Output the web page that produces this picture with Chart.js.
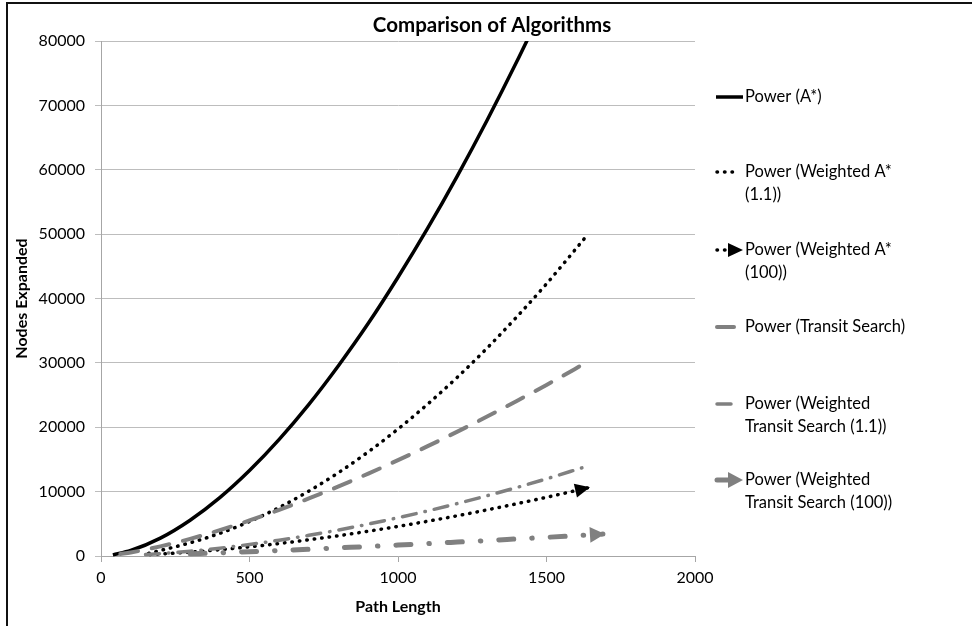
<!DOCTYPE html>
<html>
<head>
<meta charset="utf-8">
<script src="https://cdn.jsdelivr.net/npm/chart.js@4.4.1/dist/chart.umd.min.js"></script>
<style>
  html, body { margin: 0; padding: 0; background: #fff; }
  #c { display: block; }
</style>
</head>
<body>
<canvas id="c" width="972" height="626"></canvas>
<script>
// values (trendline curves)
const aStarX = [40, 100, 200, 300, 400, 500, 600, 700, 800, 900, 1000, 1100, 1200, 1300, 1400, 1500];
const aStarY = [180, 850, 2780, 5560, 9070, 13280, 18120, 23560, 29600, 36140, 43300, 50920, 59060, 67690, 76800, 86380];

const wA11X = [160, 300, 400, 500, 600, 700, 800, 900, 1000, 1100, 1200, 1300, 1400, 1500, 1640];
const wA11Y = [400, 2050, 3520, 5360, 7540, 10090, 12960, 16180, 19730, 23600, 27780, 32300, 37150, 42280, 50000];

const wA100X = [165, 300, 400, 500, 600, 700, 800, 900, 1000, 1100, 1200, 1300, 1400, 1500, 1640];
const wA100Y = [220, 600, 980, 1420, 1940, 2520, 3150, 3850, 4590, 5400, 6250, 7160, 8120, 9120, 10600];

const tsX = [65, 100, 200, 300, 400, 500, 600, 700, 800, 900, 1000, 1100, 1200, 1300, 1400, 1500, 1640];
const tsY = [300, 550, 1490, 2660, 4010, 5520, 7170, 8940, 10810, 12800, 14890, 17060, 19320, 21660, 24090, 26580, 30200];

const wts11X = [150, 200, 300, 400, 500, 600, 700, 800, 900, 1000, 1100, 1200, 1300, 1400, 1500, 1620];
const wts11Y = [220, 370, 740, 1220, 1790, 2460, 3210, 4040, 4960, 5950, 7010, 8150, 9360, 10640, 11990, 13700];

const wts100X = [300, 400, 500, 600, 700, 800, 900, 1000, 1100, 1200, 1300, 1400, 1500, 1600, 1690];
const wts100Y = [340, 500, 670, 860, 1050, 1260, 1470, 1690, 1920, 2160, 2400, 2650, 2900, 3160, 3400];

const xTicks = [0, 500, 1000, 1500, 2000];
const yTicks = [0, 10000, 20000, 30000, 40000, 50000, 60000, 70000, 80000];

const chartTitle = 'Comparison of Algorithms';
const legendText = [
  ['Power (A*)'],
  ['Power (Weighted A*', '(1.1))'],
  ['Power (Weighted A*', '(100))'],
  ['Power (Transit Search)'],
  ['Power (Weighted', 'Transit Search (1.1))'],
  ['Power (Weighted', 'Transit Search (100))']
];

const FONT = 'Lato, "Open Sans", sans-serif';
const GRAY = '#808080';

function pts(xs, ys) {
  return xs.map((x, i) => ({ x: x, y: ys[i] }));
}

function drawArrow(ctx, tipX, tipY, ang, len, half, color) {
  ctx.save();
  ctx.translate(tipX, tipY);
  ctx.rotate(ang);
  ctx.fillStyle = color;
  ctx.beginPath();
  ctx.moveTo(0, 0);
  ctx.lineTo(-len, -half);
  ctx.lineTo(-len, half);
  ctx.closePath();
  ctx.fill();
  ctx.restore();
}

// white background, black frame on top/left, and the title centred on the canvas
const framePlugin = {
  id: 'frame',
  beforeDraw(chart) {
    const ctx = chart.ctx;
    ctx.save();
    ctx.fillStyle = '#fff';
    ctx.fillRect(0, 0, chart.width, chart.height);
    ctx.strokeStyle = '#111';
    ctx.lineWidth = 2;
    ctx.beginPath();
    ctx.moveTo(7, chart.height);
    ctx.lineTo(7, 3);
    ctx.lineTo(chart.width, 3);
    ctx.stroke();
    ctx.fillStyle = '#000';
    ctx.font = 'bold 20.5px ' + FONT;
    ctx.textAlign = 'center';
    ctx.textBaseline = 'middle';
    ctx.fillText(chartTitle, 492, 25);
    ctx.restore();
  }
};

const arrowPlugin = {
  id: 'arrows',
  afterDatasetsDraw(chart) {
    const ctx = chart.ctx;
    chart.data.datasets.forEach((ds, i) => {
      if (!ds.arrow) return;
      const p = chart.getDatasetMeta(i).data;
      const a = p[p.length - 1], b = p[p.length - 2];
      const ang = Math.atan2(a.y - b.y, a.x - b.x);
      drawArrow(ctx, a.x + Math.cos(ang) * 2, a.y + Math.sin(ang) * 2, ang, ds.arrow.len, ds.arrow.half, ds.borderColor);
    });
  }
};

const legendPlugin = {
  id: 'sideLegend',
  afterDraw(chart) {
    const ctx = chart.ctx;
    const x0 = 716, tx = 745;
    const rowY = [97, 172, 250, 327, 404, 480];
    ctx.save();
    chart.data.datasets.forEach((ds, i) => {
      const y = rowY[i];
      const x1 = ds.arrow ? 730 : (ds.borderDash.length ? 734 : 743);
      ctx.save();
      ctx.strokeStyle = ds.borderColor;
      ctx.lineWidth = ds.borderWidth;
      ctx.lineCap = ds.borderCapStyle || 'butt';
      ctx.setLineDash(ds.borderDash);
      ctx.beginPath();
      ctx.moveTo(x0 + (ds.borderDash.length ? 1 : 0), y);
      ctx.lineTo(x1, y);
      ctx.stroke();
      ctx.restore();
      if (ds.arrow) drawArrow(ctx, 743, y, 0, ds.arrow.len, ds.arrow.half, ds.borderColor);
      ctx.fillStyle = '#000';
      ctx.font = '16.5px ' + FONT;
      ctx.textBaseline = 'middle';
      legendText[i].forEach((t, j) => ctx.fillText(t, tx, y + j * 23));
    });
    ctx.restore();
  }
};

const common = { showLine: true, pointRadius: 0, pointHoverRadius: 0, fill: false, tension: 0.4, cubicInterpolationMode: 'monotone', clip: { left: 4, top: 0, right: 10, bottom: 4 } };

new Chart(document.getElementById('c'), {
  type: 'scatter',
  data: {
    datasets: [
      Object.assign({}, common, { label: legendText[0].join(' '), data: pts(aStarX, aStarY), borderColor: '#000', borderWidth: 3.5, borderDash: [], order: 6 }),
      Object.assign({}, common, { label: legendText[1].join(' '), data: pts(wA11X, wA11Y), borderColor: '#000', borderWidth: 3.5, borderDash: [0.5, 7], borderCapStyle: 'round', order: 5 }),
      Object.assign({}, common, { label: legendText[2].join(' '), data: pts(wA100X, wA100Y), borderColor: '#000', borderWidth: 3.5, borderDash: [0.5, 7], borderCapStyle: 'round', arrow: { len: 15, half: 7 }, order: 4 }),
      Object.assign({}, common, { label: legendText[3].join(' '), data: pts(tsX, tsY), borderColor: GRAY, borderWidth: 4, borderDash: [18, 14], borderCapStyle: 'round', order: 3 }),
      Object.assign({}, common, { label: legendText[4].join(' '), data: pts(wts11X, wts11Y), borderColor: GRAY, borderWidth: 3.5, borderDash: [14, 9, 0.5, 9], borderCapStyle: 'round', order: 2 }),
      Object.assign({}, common, { label: legendText[5].join(' '), data: pts(wts100X, wts100Y), borderColor: GRAY, borderWidth: 5, borderDash: [15, 18, 0.5, 18], borderCapStyle: 'round', arrow: { len: 15, half: 8 }, order: 1 })
    ]
  },
  options: {
    responsive: false,
    animation: false,
    devicePixelRatio: 1,
    layout: { padding: { left: 8, right: 277, top: 41, bottom: 6 } },
    plugins: {
      legend: { display: false },
      tooltip: { enabled: false },
      title: { display: false }
    },
    scales: {
      x: {
        type: 'linear',
        min: 0, max: 2000,
        afterBuildTicks: s => { s.ticks = xTicks.map(v => ({ value: v })); },
        afterFit: s => { s.height = 64; },
        ticks: { color: '#000', font: { family: FONT, size: 16 }, padding: 6, maxRotation: 0, callback: v => String(v) },
        grid: { drawOnChartArea: false, drawTicks: true, tickLength: 6, color: '#a6a6a6' },
        border: { color: '#a6a6a6' },
        title: { display: true, text: 'Path Length', color: '#000', font: { family: FONT, size: 16, weight: 'bold' }, padding: 4 }
      },
      y: {
        min: 0, max: 80000,
        afterBuildTicks: s => { s.ticks = yTicks.map(v => ({ value: v })); },
        afterFit: s => { s.width = 93; },
        ticks: { color: '#000', font: { family: FONT, size: 16 }, padding: 10, callback: v => String(v) },
        grid: { color: '#bdbdbd', tickLength: 6 },
        border: { color: '#a6a6a6' },
        title: { display: true, text: 'Nodes Expanded', color: '#000', font: { family: FONT, size: 16, weight: 'bold' }, padding: 4 }
      }
    }
  },
  plugins: [framePlugin, arrowPlugin, legendPlugin]
});
</script>
</body>
</html>
